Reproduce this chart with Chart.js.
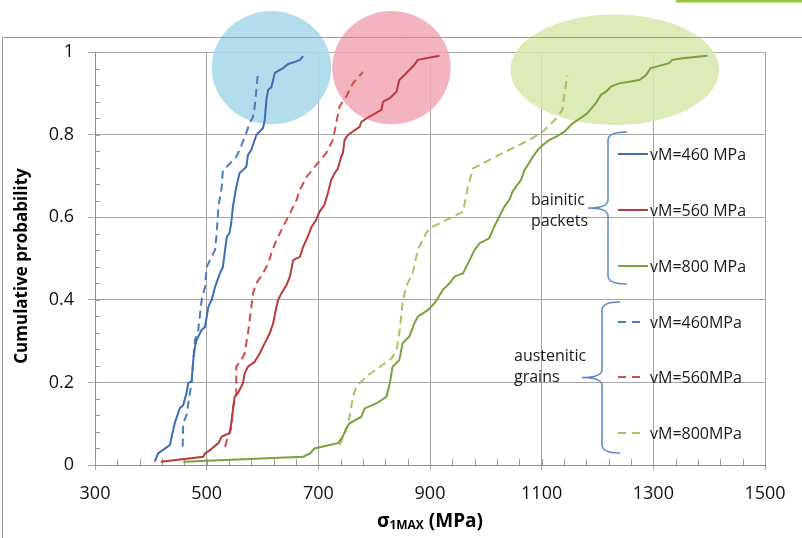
<!DOCTYPE html>
<html>
<head>
<meta charset="utf-8">
<script src="https://cdn.jsdelivr.net/npm/chart.js@4/dist/chart.umd.min.js"></script>
<style>
  body { margin: 0; background: #fff; }
  canvas { display: block; }
</style>
</head>
<body>
<canvas id="chart" width="802" height="538"></canvas>
<script>
// tick labels
const xTicks = [300, 500, 700, 900, 1100, 1300, 1500];
const yTicks = [0, 0.2, 0.4, 0.6, 0.8, 1];

// bainitic packets (solid) - [sigma1max, cumulative probability]
const bain460 = [[407,0.008],[413,0.028],[434,0.048],[443,0.102],[452,0.138],[458,0.145],[464,0.174],[467,0.199],[473,0.202],[476,0.254],[479,0.286],[482,0.303],[491,0.327],[497,0.334],[503,0.383],[509,0.400],[515,0.431],[524,0.465],[529,0.479],[533,0.521],[536,0.552],[541,0.562],[544,0.586],[547,0.625],[553,0.673],[559,0.707],[565,0.714],[571,0.722],[574,0.751],[580,0.763],[589,0.799],[601,0.816],[604,0.835],[607,0.884],[610,0.908],[616,0.915],[622,0.949],[625,0.952],[637,0.961],[646,0.971],[658,0.976],[667,0.981],[673,0.990]];
const bain560 = [[418,0.008],[494,0.020],[497,0.028],[506,0.036],[521,0.053],[527,0.069],[541,0.077],[544,0.101],[550,0.165],[556,0.174],[565,0.198],[568,0.222],[574,0.238],[586,0.250],[595,0.270],[604,0.295],[613,0.319],[619,0.343],[625,0.383],[628,0.400],[634,0.416],[643,0.436],[649,0.456],[655,0.496],[667,0.504],[673,0.529],[681,0.553],[688,0.577],[696,0.593],[702,0.613],[711,0.630],[717,0.658],[723,0.690],[729,0.706],[735,0.718],[741,0.746],[744,0.755],[747,0.787],[753,0.799],[774,0.819],[777,0.831],[786,0.839],[813,0.860],[816,0.880],[828,0.888],[840,0.904],[845,0.932],[857,0.948],[872,0.969],[878,0.981],[917,0.991]];
const bain800 = [[458,0.008],[673,0.020],[685,0.028],[693,0.040],[735,0.053],[744,0.069],[750,0.089],[756,0.101],[777,0.117],[783,0.137],[804,0.149],[822,0.165],[828,0.198],[833,0.238],[845,0.254],[851,0.295],[863,0.311],[872,0.343],[878,0.359],[896,0.375],[908,0.392],[914,0.404],[923,0.424],[935,0.440],[944,0.456],[959,0.464],[968,0.488],[980,0.521],[989,0.537],[1006,0.549],[1015,0.577],[1024,0.601],[1033,0.625],[1042,0.642],[1048,0.662],[1054,0.674],[1063,0.690],[1069,0.714],[1075,0.726],[1084,0.746],[1093,0.763],[1102,0.775],[1114,0.787],[1126,0.795],[1141,0.807],[1155,0.827],[1173,0.843],[1182,0.852],[1197,0.876],[1206,0.896],[1215,0.904],[1224,0.916],[1239,0.924],[1257,0.928],[1275,0.932],[1287,0.944],[1295,0.961],[1304,0.964],[1328,0.973],[1334,0.981],[1352,0.985],[1397,0.991]];

// austenitic grains (dashed)
const aust460 = [[457,0.044],[458,0.102],[464,0.121],[470,0.174],[473,0.199],[476,0.254],[479,0.303],[485,0.327],[491,0.400],[497,0.431],[500,0.479],[506,0.496],[515,0.521],[518,0.562],[521,0.625],[527,0.673],[529,0.714],[536,0.722],[553,0.746],[559,0.763],[571,0.804],[577,0.828],[583,0.843],[586,0.867],[589,0.908],[592,0.952]];
const aust560 = [[533,0.044],[538,0.069],[544,0.089],[547,0.141],[553,0.165],[553,0.238],[562,0.254],[568,0.270],[574,0.319],[580,0.383],[583,0.416],[589,0.440],[601,0.464],[610,0.488],[616,0.513],[625,0.545],[637,0.577],[649,0.609],[661,0.642],[667,0.666],[679,0.698],[696,0.726],[714,0.755],[726,0.787],[732,0.827],[738,0.868],[750,0.892],[762,0.924],[780,0.952]];
const aust800 = [[738,0.048],[750,0.085],[756,0.117],[762,0.165],[768,0.190],[786,0.214],[810,0.238],[831,0.258],[840,0.278],[845,0.319],[851,0.392],[857,0.432],[869,0.464],[878,0.521],[893,0.561],[899,0.573],[917,0.585],[941,0.601],[959,0.613],[968,0.674],[977,0.718],[1000,0.734],[1030,0.755],[1054,0.771],[1078,0.787],[1102,0.807],[1126,0.839],[1137,0.860],[1141,0.900],[1146,0.944]];

const legendLabels = ['vM=460 MPa', 'vM=560 MPa', 'vM=800 MPa', 'vM=460MPa', 'vM=560MPa', 'vM=800MPa'];
const colors = ['#3d6db3', '#b93b3c', '#7aa23c', '#4a7cc2', '#d24b4e', '#a6c461'];

// highlight ellipses (data units)
const circles = [
  { x: 616, y: 0.962, rx: 107, ry: 0.137, color: 'rgba(168,216,233,0.88)' },
  { x: 831, y: 0.962, rx: 106, ry: 0.137, color: 'rgba(241,166,180,0.85)' },
  { x: 1231, y: 0.957, rx: 187, ry: 0.134, color: 'rgba(214,232,172,0.85)' }
];

function toXY(arr) {
  return arr.map(p => ({ x: p[0], y: p[1] }));
}

const series = [bain460, bain560, bain800, aust460, aust560, aust800];
const datasets = series.map((s, i) => ({
  label: legendLabels[i],
  data: toXY(s),
  showLine: true,
  borderColor: colors[i],
  borderWidth: 2,
  borderDash: i >= 3 ? [8, 5] : [],
  pointRadius: 0,
  tension: 0
}));

function brace(ctx, xv, top, bot, tip, hook) {
  const mid = (top + bot) / 2;
  ctx.beginPath();
  ctx.moveTo(hook, top);
  ctx.quadraticCurveTo(xv, top, xv, top + 8);
  ctx.lineTo(xv, mid - 8);
  ctx.quadraticCurveTo(xv, mid, tip, mid);
  ctx.quadraticCurveTo(xv, mid, xv, mid + 8);
  ctx.lineTo(xv, bot - 8);
  ctx.quadraticCurveTo(xv, bot, hook, bot);
  ctx.stroke();
}

const decor = {
  id: 'decor',
  beforeDatasetsDraw(chart) {
    const { ctx, scales: { x, y } } = chart;
    ctx.save();
    circles.forEach(c => {
      const cx = x.getPixelForValue(c.x);
      const cy = y.getPixelForValue(c.y);
      const rx = x.getPixelForValue(c.x + c.rx) - cx;
      const ry = cy - y.getPixelForValue(c.y + c.ry);
      ctx.fillStyle = c.color;
      ctx.beginPath();
      ctx.ellipse(cx, cy, rx, ry, 0, 0, Math.PI * 2);
      ctx.fill();
    });
    // minor ticks
    ctx.strokeStyle = '#9a9a9a';
    ctx.lineWidth = 1;
    ctx.beginPath();
    for (let v = 300; v <= 1500; v += 40) {
      const px = Math.round(x.getPixelForValue(v)) + 0.5;
      ctx.moveTo(px, y.bottom);
      ctx.lineTo(px, y.bottom - 6);
    }
    for (let v = 0; v <= 1.0001; v += 0.04) {
      const py = Math.round(y.getPixelForValue(v)) + 0.5;
      ctx.moveTo(x.left, py);
      ctx.lineTo(x.left + 5, py);
    }
    ctx.stroke();
    ctx.restore();
  },
  afterDraw(chart) {
    const { ctx, chartArea } = chart;
    ctx.save();
    // slide frame
    ctx.strokeStyle = '#9c9c9c';
    ctx.lineWidth = 1;
    ctx.beginPath();
    ctx.moveTo(2.5, 538);
    ctx.lineTo(2.5, 37.5);
    ctx.lineTo(802, 37.5);
    ctx.stroke();
    ctx.strokeStyle = '#92c83e';
    ctx.lineWidth = 3;
    ctx.beginPath();
    ctx.moveTo(676, 1);
    ctx.lineTo(802, 1);
    ctx.stroke();

    // axis titles
    ctx.fillStyle = '#000';
    ctx.font = 'bold 17px "Open Sans"';
    ctx.textBaseline = 'middle';
    ctx.save();
    ctx.translate(22, 266);
    ctx.rotate(-Math.PI / 2);
    ctx.textAlign = 'center';
    ctx.fillText('Cumulative probability', 0, 0);
    ctx.restore();

    const cxT = (chartArea.left + chartArea.right) / 2;
    const yT = 522;
    ctx.font = 'bold 19px "Open Sans"';
    const w1 = ctx.measureText('σ').width;
    const w3 = ctx.measureText(' (MPa)').width;
    ctx.font = 'bold 12px "Open Sans"';
    const w2 = ctx.measureText('1MAX').width;
    let sx = cxT - (w1 + w2 + w3) / 2;
    ctx.textAlign = 'left';
    ctx.font = 'bold 19px "Open Sans"';
    ctx.fillText('σ', sx, yT);
    ctx.font = 'bold 12px "Open Sans"';
    ctx.fillText('1MAX', sx + w1, yT + 4);
    ctx.font = 'bold 19px "Open Sans"';
    ctx.fillText(' (MPa)', sx + w1 + w2, yT);

    // legend
    const rows = [154, 210, 266, 322, 377, 433];
    ctx.font = '16px "Open Sans"';
    rows.forEach((ry, i) => {
      ctx.strokeStyle = colors[i];
      ctx.lineWidth = 2;
      ctx.setLineDash(i >= 3 ? [8, 6] : []);
      ctx.beginPath();
      ctx.moveTo(618, ry);
      ctx.lineTo(i >= 3 ? 643 : 648, ry);
      ctx.stroke();
      ctx.fillStyle = '#1a1a1a';
      ctx.fillText(legendLabels[i], 650, ry + 1);
    });
    ctx.setLineDash([]);
    ctx.strokeStyle = '#5b88c4';
    ctx.lineWidth = 1.5;
    brace(ctx, 608, 132, 284, 588, 627);
    brace(ctx, 602, 302, 453, 582, 620);
    ctx.fillStyle = '#1a1a1a';
    ctx.fillText('bainitic', 531, 200);
    ctx.fillText('packets', 531, 221);
    ctx.fillText('austenitic', 514, 356);
    ctx.fillText('grains', 514, 377);
    ctx.restore();
  }
};

new Chart(document.getElementById('chart'), {
  type: 'scatter',
  data: { datasets: datasets },
  plugins: [decor],
  options: {
    responsive: false,
    animation: false,
    layout: { padding: { left: 0, top: 52, right: 37, bottom: 0 } },
    plugins: { legend: { display: false }, tooltip: { enabled: false } },
    scales: {
      x: {
        type: 'linear',
        min: 300,
        max: 1500,
        afterFit: s => { s.height = 73; },
        afterBuildTicks: s => { s.ticks = xTicks.map(v => ({ value: v })); },
        ticks: { font: { family: 'Open Sans', size: 18 }, color: '#111', padding: 13, maxRotation: 0, callback: v => String(v) },
        grid: { color: '#a8a8a8', tickLength: 5 },
        border: { color: '#8c8c8c' }
      },
      y: {
        min: 0,
        max: 1,
        afterFit: s => { s.width = 95; },
        afterBuildTicks: s => { s.ticks = yTicks.map(v => ({ value: v })); },
        ticks: { font: { family: 'Open Sans', size: 18 }, color: '#111', padding: 14, callback: v => String(v) },
        grid: { color: '#a8a8a8', tickLength: 7 },
        border: { color: '#8c8c8c' }
      }
    }
  }
});
</script>
</body>
</html>
